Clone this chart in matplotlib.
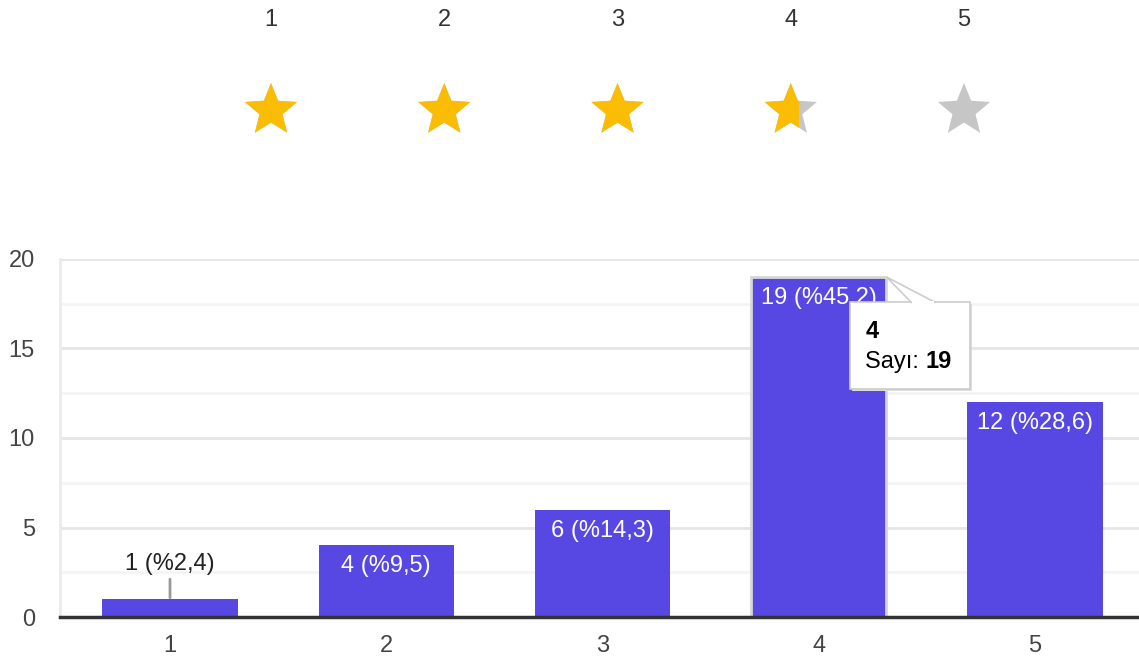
import numpy as np
import matplotlib
matplotlib.use("Agg")
import matplotlib.pyplot as plt
from matplotlib.patches import Polygon, Rectangle
from matplotlib.transforms import IdentityTransform

plt.rcParams['font.family'] = ['Liberation Sans', 'DejaVu Sans']

# --- data ---
categories = ["1", "2", "3", "4", "5"]
counts = [1, 4, 6, 19, 12]
percents = ["2,4", "9,5", "14,3", "45,2", "28,6"]
star_fill = [1, 1, 1, 0.65, 0]   # fill share of each rating star
tooltip_cat = "4"
tooltip_label = "Sayı:"

BAR = "#5848e3"
YELLOW = "#fbbc04"
GREY_STAR = "#c6c6c6"
TXT = "#444444"
FS = 17

W, H = 1139, 656
fig = plt.figure(figsize=(W / 100, H / 100), dpi=100)

# --- star rating strip ---
ax_s = fig.add_axes([0, 0, 1, 1])
unit = 173.25  # px per category step
ax_s.set_xlim(1 - 271 / unit, 1 + (W - 271) / unit)
ax_s.set_ylim(0, H / unit)
ax_s.axis("off")


def star_points(cx, cy, R, r):
    ang = np.pi / 2 + np.arange(10) * np.pi / 5
    rad = np.where(np.arange(10) % 2 == 0, R, r)
    return np.column_stack([cx + rad * np.cos(ang), cy + rad * np.sin(ang)])


R = 27.5 / unit
cy = (H - 110.5) / unit
for i, (cat, f) in enumerate(zip(categories, star_fill)):
    x = i + 1
    pts = star_points(x, cy, R, R * 0.44)
    ax_s.add_patch(Polygon(pts, closed=True, color=GREY_STAR, lw=0))
    if f > 0:
        star = Polygon(pts, closed=True, color=YELLOW, lw=0)
        ax_s.add_patch(star)
        x0 = x - R * np.sin(2 * np.pi / 5)
        clip = Rectangle((x0, cy - 2 * R), f * 2 * R * np.sin(2 * np.pi / 5), 4 * R,
                         transform=ax_s.transData)
        star.set_clip_path(clip)
    ax_s.text(x, (H - 20) / unit, cat, ha="center", va="center", fontsize=FS, color="#333333")

# --- bar chart ---
ax = fig.add_axes([60 / W, 39 / H, (W - 60) / W, 358 / H])
x = np.arange(1, len(categories) + 1)
width = 0.625
edges = ["#d6d6d6" if c == tooltip_cat else BAR for c in categories]
lws = [2 if c == tooltip_cat else 0 for c in categories]
bars = ax.bar(x, counts, width=width, color=BAR, edgecolor=edges, linewidth=lws, zorder=3)

ax.set_xlim(1 - 110 / 216.25, 5 + 104 / 216.25)
ax.set_ylim(0, 20)
ax.set_yticks([0, 5, 10, 15, 20])
ax.set_yticks(np.arange(2.5, 20, 5), minor=True)
ax.set_xticks(x)
ax.set_xticklabels(categories)
ax.tick_params(axis="both", length=0, labelsize=FS, labelcolor=TXT)
ax.tick_params(axis="y", pad=18)
ax.tick_params(axis="x", pad=13)
ax.tick_params(axis="y", which="minor", length=0)
ax.grid(axis="y", which="major", color="#e6e6e6", lw=2, zorder=0)
ax.grid(axis="y", which="minor", color="#f4f4f4", lw=2, zorder=0)
for s in ["top", "right"]:
    ax.spines[s].set_visible(False)
ax.spines["left"].set_color("#ebebeb")
ax.spines["left"].set_linewidth(2)
ax.spines["bottom"].set_color("#333333")
ax.spines["bottom"].set_linewidth(2.5)
ax.spines["bottom"].set_zorder(4)

for xi, c, p in zip(x, counts, percents):
    label = f"{c} (%{p})"
    if c >= 3:
        ax.annotate(label, (xi, c), xytext=(0, -21), textcoords="offset pixels",
                    ha="center", va="center", fontsize=FS, color="white", zorder=5)
    else:
        ax.annotate(label, (xi, c), xytext=(0, 35), textcoords="offset pixels",
                    ha="center", va="center", fontsize=FS, color="#222222", zorder=5,
                    arrowprops=dict(arrowstyle="-", color="#999999", lw=2,
                                    shrinkA=1, shrinkB=1))

# --- tooltip on the hovered bar ---
k = categories.index(tooltip_cat)
ax_x, ax_y = ax.transData.transform((x[k] + width / 2, counts[k]))
tr = IdentityTransform()


def px(dx, dy):
    return (ax_x + dx, ax_y - dy)


box = [px(-36, 25), px(84, 25), px(84, 112), px(-36, 112)]
shadow = [(a + 2, b - 2) for a, b in box]
fig.add_artist(Polygon(shadow, closed=True, fc="#dddddd", ec="none", transform=tr, zorder=9))
fig.add_artist(Polygon(box, closed=True, fc="white", ec="#cccccc", lw=1.2, transform=tr, zorder=10))
pointer = [px(0, 0), px(25, 25.5), px(49, 25.5)]
fig.add_artist(Polygon(pointer, closed=True, fc="white", ec="#cccccc", lw=1.2, transform=tr, zorder=10))
fig.add_artist(Polygon([px(26, 24.3), px(48, 24.3), px(48, 27), px(26, 27)], closed=True,
                       fc="white", ec="none", transform=tr, zorder=11))

t1 = fig.text(*px(-21, 55), tooltip_cat, transform=tr, fontsize=FS, fontweight="bold",
              color="black", ha="left", va="center", zorder=12)
t2 = fig.text(*px(-21, 85), tooltip_label + " ", transform=tr, fontsize=FS,
              color="black", ha="left", va="center", zorder=12)
fig.canvas.draw()
ext = t2.get_window_extent()
fig.text(ext.x1, ax_y - 85, str(counts[k]), transform=tr, fontsize=FS,
         fontweight="bold", color="black", ha="left", va="center", zorder=12)

fig.savefig("out.png", dpi=100)
